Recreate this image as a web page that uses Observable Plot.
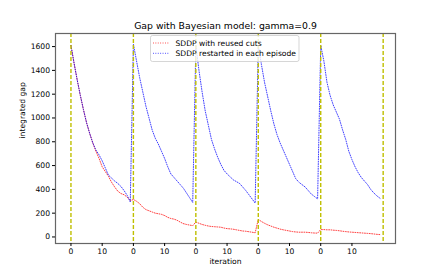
<!DOCTYPE html>
<html><head><meta charset="utf-8">
<script src="https://cdn.jsdelivr.net/npm/d3@7"></script>
<script src="https://cdn.jsdelivr.net/npm/@observablehq/plot@0.6"></script>
<style>
body{margin:0;background:#fff;font-family:"DejaVu Sans",sans-serif;}
#wrap{position:relative;width:439px;height:274px;overflow:hidden;}
#wrap svg{display:block;}
</style></head><body><div id="wrap"></div>
<script>
const title = "Gap with Bayesian model: gamma=0.9";
const xLabel = "iteration";
const yLabel = "integrated gap";
const seriesNames = ["SDDP with reused cuts", "SDDP restarted in each episode"];
const seriesColors = ["#ff0000", "#0000ff"];
const episodeColor = "#bfbf00";

// integrated gap per global iteration (5 episodes x 20 iterations)
const reusedCuts = [
  1610,1460,1320,1190,1070,960,870,790,720,660,590,550,510,460,420,385,365,355,335,305,
  315,300,280,250,230,220,210,200,195,190,180,165,155,150,140,125,112,105,100,95,
  125,115,105,98,92,88,86,84,82,75,70,68,65,60,55,50,48,44,40,35,
  148,130,115,102,92,82,74,66,60,55,50,45,42,40,40,40,38,35,33,32,
  62,62,60,60,57,55,52,48,45,42,40,38,36,34,32,30,28,25,22,20
];
const restarted = [
  1610,1460,1320,1190,1070,960,870,790,730,690,640,580,520,495,470,450,425,390,350,295,
  1620,1480,1340,1220,1100,1000,900,830,780,720,660,590,530,500,470,440,410,370,330,290,
  1610,1400,1220,1060,940,820,740,670,610,560,530,505,480,465,450,420,390,355,320,285,
  1610,1450,1300,1180,1060,950,860,790,730,670,610,550,490,460,440,420,390,360,340,320,
  1610,1480,1300,1190,1110,1050,990,900,820,720,650,590,540,500,470,440,400,370,345,325
];
const episodeStarts = [0, 20, 40, 60, 80, 100];
const xTicks = [0, 10, 20, 30, 40, 50, 60, 70, 80, 90];
const xTickLabels = ["0", "10", "0", "10", "0", "10", "0", "10", "0", "10"];
const yTicks = [0, 200, 400, 600, 800, 1000, 1200, 1400, 1600];

const toRows = (arr, name) => arr.map((v, i) => ({iteration: i, gap: v, series: name}));
const redRows = toRows(reusedCuts, seriesNames[0]);
const blueRows = toRows(restarted, seriesNames[1]);

const font = "DejaVu Sans";
const dots = "0.9,1.5";
const chart = Plot.plot({
  width: 439, height: 274,
  marginLeft: 55, marginRight: 44, marginTop: 33, marginBottom: 31,
  style: {fontFamily: font, fontSize: "7.6px", background: "#fff", color: "#000", overflow: "visible"},
  x: {domain: [-4.95, 103.95]},
  y: {domain: [-55, 1710]},
  marks: [
    Plot.line(redRows, {x: "iteration", y: "gap", stroke: seriesColors[0], strokeWidth: 1, strokeOpacity: 0.75, strokeDasharray: dots}),
    Plot.line(blueRows, {x: "iteration", y: "gap", stroke: seriesColors[1], strokeWidth: 1, strokeOpacity: 0.75, strokeDasharray: dots}),
    Plot.ruleX(episodeStarts, {stroke: episodeColor, strokeWidth: 1.4, strokeDasharray: "4,2"}),
    Plot.frame({stroke: "#666", strokeWidth: 1.2}),
    Plot.axisX({ticks: xTicks, tickFormat: d => xTickLabels[xTicks.indexOf(d)], tickSize: 3, tickPadding: 2.5, label: null, fontSize: 7.6}),
    Plot.axisY({ticks: yTicks, tickFormat: d => String(d), tickSize: 3, tickPadding: 2.5, label: null, fontSize: 7.6}),
    Plot.text([title], {frameAnchor: "top", dy: -5, lineAnchor: "bottom", fontSize: 9.3}),
    Plot.text([yLabel], {frameAnchor: "left", dx: -33, rotate: -90, fontSize: 7.6}),
    Plot.text([xLabel], {frameAnchor: "bottom", dy: 20, fontSize: 7.6})
  ]
});
const wrap = document.getElementById("wrap");
wrap.appendChild(chart);

// legend
const leg = d3.select(wrap).append("svg")
  .attr("width", 150).attr("height", 28)
  .style("position", "absolute").style("left", "150px").style("top", "35px")
  .style("font-family", font).style("font-size", "7.6px");
leg.append("rect").attr("x", 0.5).attr("y", 0.5).attr("width", 148.5).attr("height", 26)
  .attr("rx", 2).attr("fill", "rgba(255,255,255,0.8)").attr("stroke", "rgba(204,204,204,0.8)").attr("stroke-width", 1);
seriesNames.forEach((name, k) => {
  const cy = 8 + k * 10.3;
  leg.append("line").attr("x1", 3).attr("x2", 19).attr("y1", cy).attr("y2", cy)
    .attr("stroke", seriesColors[k]).attr("stroke-opacity", 0.75).attr("stroke-width", 1).attr("stroke-dasharray", dots);
  leg.append("text").attr("x", 25.5).attr("y", cy).attr("dy", "0.35em").text(name);
});
</script></body></html>
